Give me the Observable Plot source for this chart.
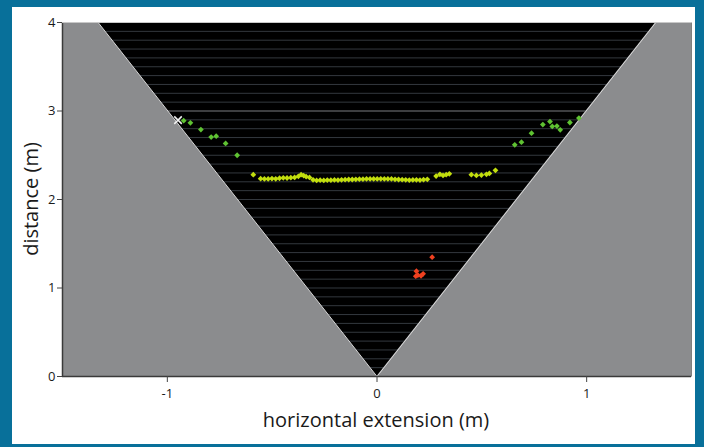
<!DOCTYPE html>
<html>
<head>
<meta charset="utf-8">
<script src="https://cdn.jsdelivr.net/npm/d3@7"></script>
<script src="https://cdn.jsdelivr.net/npm/@observablehq/plot@0.6"></script>
<style>
  html, body { margin: 0; padding: 0; }
  body { width: 704px; height: 447px; background: #08709a; position: relative; overflow: hidden; font-family: "Open Sans", "Noto Sans", sans-serif; }
  #panel { position: absolute; left: 12px; top: 7px; width: 683px; height: 437px; background: #ffffff; }
  #chart { position: absolute; left: 0; top: 0; }
  #chart svg { background: transparent; }
  .ylab { position: absolute; left: 30px; top: 199px; transform: translate(-50%, -50%) rotate(-90deg); font-size: 20px; color: #1a1a1a; white-space: nowrap; }
  .xlab { position: absolute; left: 376px; top: 419px; transform: translate(-50%, -50%); font-size: 20px; color: #1a1a1a; white-space: nowrap; }
</style>
</head>
<body>
<div id="panel"></div>
<div id="chart"></div>
<div class="ylab">distance (m)</div>
<div class="xlab">horizontal extension (m)</div>
<script>
// ----- data -----
const xDomain = [-1.5, 1.5];
const yDomain = [0, 4];
const xTicks = [-1, 0, 1];
const yTicks = [0, 1, 2, 3, 4];

// field-of-view wedge edges
const edgeY = [0, 4];
const leftEdgeX = [0, -1.33];
const rightEdgeX = [0, 1.33];

// horizontal range lines inside the wedge
const gridY = [0.1,0.2,0.3,0.4,0.5,0.6,0.7,0.8,0.9,1.0,1.1,1.2,1.3,1.4,1.5,1.6,1.7,1.8,1.9,2.0,
               2.1,2.2,2.3,2.4,2.5,2.6,2.7,2.8,2.9,3.1,3.2,3.3,3.4,3.5,3.6,3.7,3.8,3.9];
const brightGridY = [3.0];

// far targets (green)
const greenX = [-0.922,-0.89,-0.84,-0.791,-0.767,-0.722,-0.667, 0.657,0.689,0.737,0.791,0.825,0.836,0.858,0.874,0.92,0.963];
const greenY = [2.89,2.866,2.79,2.705,2.715,2.633,2.50, 2.618,2.648,2.75,2.847,2.88,2.825,2.83,2.787,2.87,2.92];

// wall band (yellow-green)
const yellowX = [-0.59,-0.555,-0.537,-0.519,-0.501,-0.483,-0.465,-0.447,-0.429,-0.411,-0.393,-0.375,-0.362,-0.350,-0.338,-0.322,
  -0.305,-0.288,-0.271,-0.254,-0.237,-0.220,-0.203,-0.186,-0.169,-0.152,-0.135,-0.118,-0.101,-0.084,-0.067,-0.050,-0.033,-0.016,
  0.001,0.018,0.035,0.052,0.069,0.086,0.103,0.120,0.137,0.154,0.171,0.188,0.205,0.222,0.240,0.282,0.300,0.315,0.33,0.345,
  0.45,0.474,0.498,0.522,0.536,0.565];
const yellowY = [2.28,2.235,2.232,2.233,2.236,2.234,2.24,2.245,2.243,2.247,2.25,2.262,2.28,2.27,2.258,2.25,
  2.222,2.215,2.218,2.216,2.22,2.218,2.221,2.22,2.222,2.224,2.226,2.226,2.228,2.23,2.23,2.232,2.233,2.232,
  2.233,2.234,2.233,2.232,2.232,2.228,2.226,2.224,2.222,2.22,2.221,2.222,2.22,2.224,2.228,2.265,2.285,2.272,2.28,2.29,
  2.28,2.272,2.276,2.285,2.295,2.33];

// near target (red)
const redX = [0.263,0.188,0.195,0.21,0.22,0.185];
const redY = [1.348,1.19,1.145,1.138,1.16,1.133];

// marked point
const markX = [-0.949];
const markY = [2.897];

// ----- build tables -----
const wedge = edgeY.map((y, i) => ({y, left: leftEdgeX[i], right: rightEdgeX[i]}));
const edgeLine = [
  {x: leftEdgeX[1], y: edgeY[1]}, {x: leftEdgeX[0], y: edgeY[0]}, {x: rightEdgeX[1], y: edgeY[1]}
];
const pts = (xs, ys) => xs.map((x, i) => ({x, y: ys[i]}));
const green = pts(greenX, greenY);
const yellow = pts(yellowX, yellowY);
const red = pts(redX, redY);
const mark = pts(markX, markY);
const fmt = d => String(d);

const chart = Plot.plot({
  width: 704,
  height: 447,
  marginLeft: 62,
  marginRight: 13,
  marginTop: 22,
  marginBottom: 71,
  style: {background: "transparent", fontFamily: "'Open Sans', 'Noto Sans', sans-serif", fontSize: "13px", color: "#1a1a1a"},
  x: {domain: xDomain, label: null},
  y: {domain: yDomain, label: null},
  marks: [
    Plot.frame({fill: "#000000", stroke: null}),
    Plot.ruleY(gridY, {stroke: "#33383e", strokeWidth: 1}),
    Plot.ruleY(brightGridY, {stroke: "#7a7d80", strokeWidth: 1}),
    Plot.areaX(wedge, {y: "y", x1: xDomain[0], x2: "left", fill: "#8b8c8e", curve: "linear"}),
    Plot.areaX(wedge, {y: "y", x1: "right", x2: xDomain[1], fill: "#8b8c8e", curve: "linear"}),
    Plot.line(edgeLine, {x: "x", y: "y", stroke: "#d8d8d8", strokeWidth: 1}),
    Plot.ruleX([xDomain[0]], {stroke: "#3a3a3a", strokeWidth: 1.5}),
    Plot.ruleY([yDomain[0]], {stroke: "#3a3a3a", strokeWidth: 1.5}),
    Plot.ruleY([yDomain[1]], {stroke: "#c8c8c8", strokeWidth: 1}),
    Plot.dot(green, {x: "x", y: "y", symbol: "diamond2", r: 2.6, fill: "#5fc232", stroke: null}),
    Plot.dot(yellow, {x: "x", y: "y", symbol: "diamond2", r: 2.6, fill: "#c2de0e", stroke: null}),
    Plot.dot(red, {x: "x", y: "y", symbol: "diamond2", r: 2.6, fill: "#ef4120", stroke: null}),
    Plot.dot(mark, {x: "x", y: "y", symbol: "times", r: 3.5, stroke: "#f2f2f2", strokeWidth: 1.5}),
    Plot.axisY({ticks: yTicks, tickFormat: fmt, tickSize: 5, tickPadding: 2, stroke: "#444", fill: "#1a1a1a", fontSize: 13, label: null}),
    Plot.axisX({ticks: xTicks, tickFormat: fmt, tickSize: 6, tickPadding: 6, stroke: "#444", fill: "#1a1a1a", fontSize: 13, label: null})
  ]
});
document.getElementById("chart").appendChild(chart);
</script>
</body>
</html>
